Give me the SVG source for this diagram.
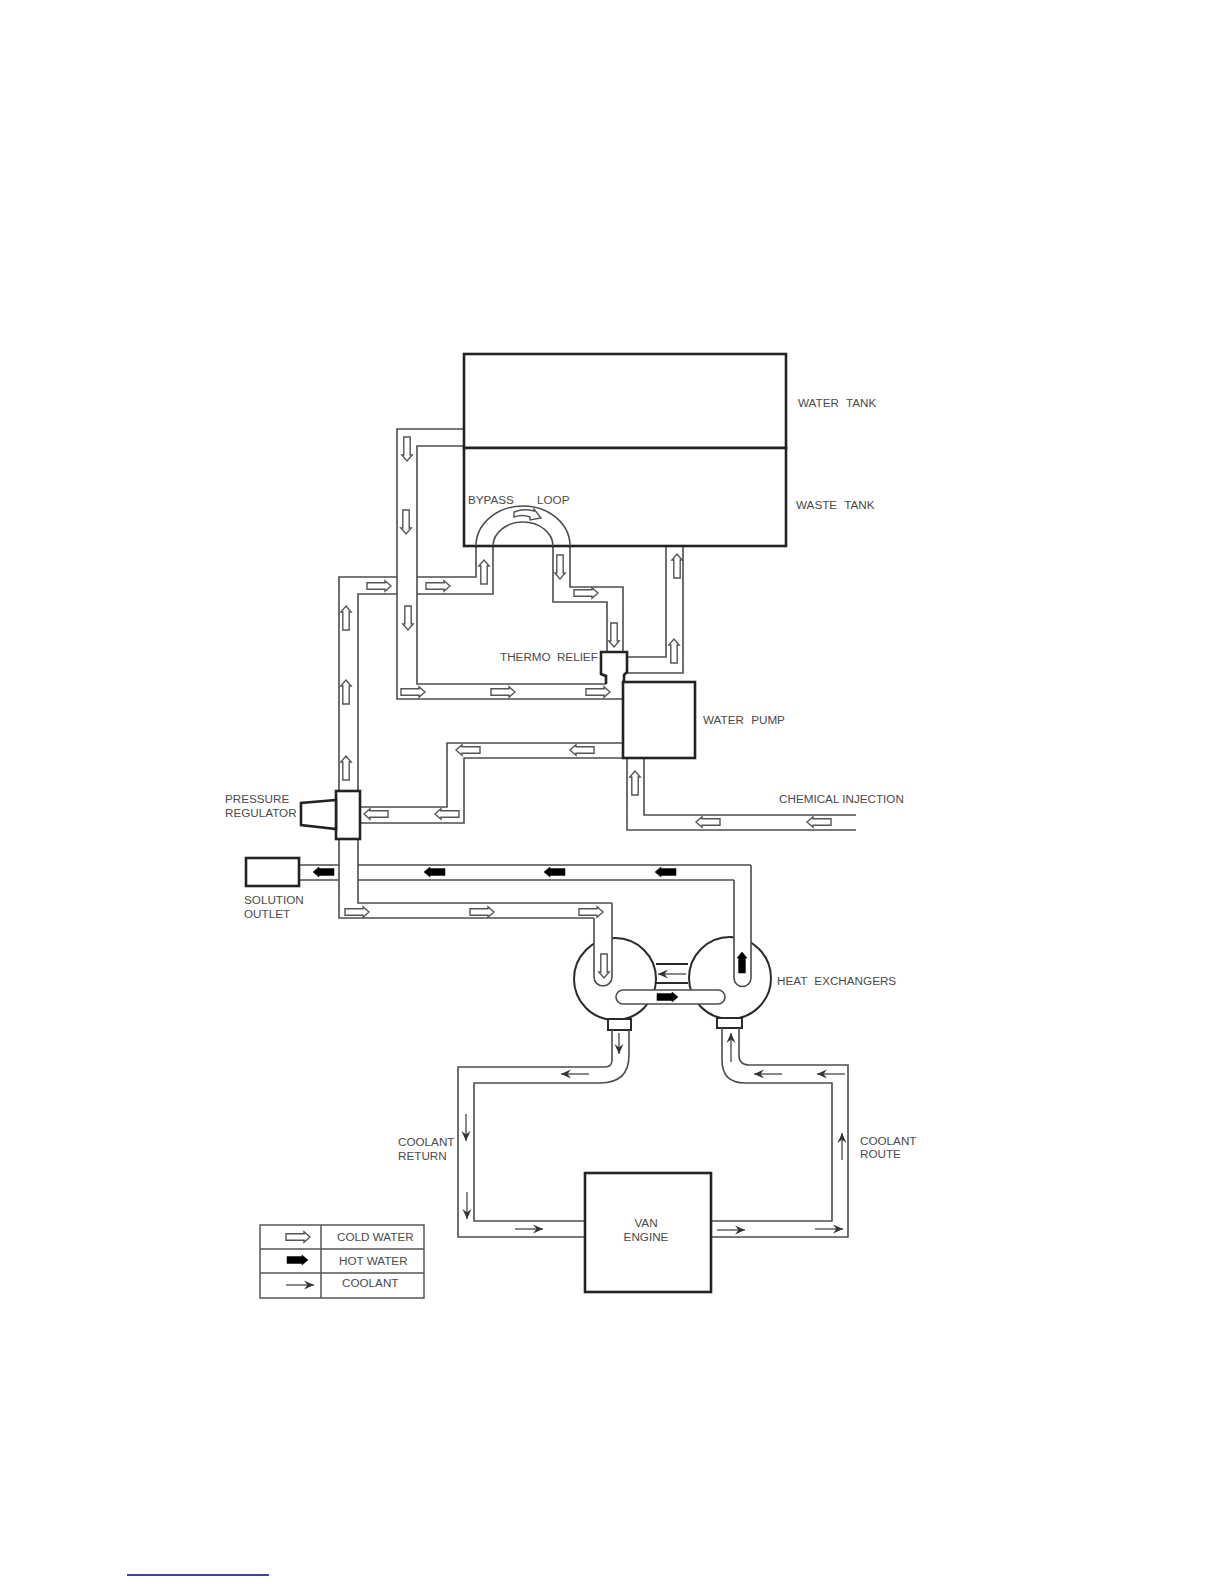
<svg xmlns="http://www.w3.org/2000/svg" width="1224" height="1584" viewBox="0 0 1224 1584">
<style>
text{font-family:"Liberation Sans",Arial,sans-serif;font-size:11.7px;fill:#4a4a4a}
.wide{word-spacing:4px}
.mid{text-anchor:middle}
.node{fill:#fff;stroke:#222;stroke-width:2.6}
.node2{fill:#fff;stroke:#2a2a2a;stroke-width:2}
.pipe{fill:none;stroke:#4d4d4d;stroke-width:1.6}
.pipew{fill:#fff;stroke:#4d4d4d;stroke-width:1.6}
.bar{fill:#fff;stroke:#4d4d4d;stroke-width:1.6}
.cold{fill:#fff;stroke:#555;stroke-width:1.4}
.hot{fill:#000;stroke:#111;stroke-width:.6}
.thin{fill:none;stroke:#555;stroke-width:1.4;marker-end:url(#tip)}
.leg{fill:none;stroke:#555;stroke-width:1.5}
</style>
<defs>
<path id="c" class="cold" d="M-12-3.2H6V-5.2L12 0 6 5.2V3.2H-12Z"/>
<path id="h" class="hot" d="M-10-3.4H5V-5L11 0 5 5V3.4H-10Z"/>
<marker id="tip" markerUnits="userSpaceOnUse" markerWidth="14" markerHeight="14" refX="11" refY="7" orient="auto"><path d="M1 2.5 11 7 1 11.5 4.5 7Z" fill="#333"/></marker>
</defs>
<g id="heat-exchanger-left"><circle class="node2" cx="615" cy="979" r="41"/><rect class="node2" x="608" y="1019" width="23" height="11"/></g>
<g id="heat-exchanger-right"><circle class="node2" cx="730" cy="978" r="41"/><rect class="node2" x="717" y="1018" width="25" height="10"/></g>
<g id="exchanger-link"><path class="node2" d="M656 964H688M656 983H688" fill="none"/></g>
<g id="connectors">
<path class="pipe" d="M464 429H397V699H623M464 446H417V684H606"/>
<path class="pipe" d="M397 577H339V791M397 594H358V791"/>
<path class="pipe" d="M417 577H476V546M417 594H493V546"/>
<path class="pipe" d="M553 546V602H607V652M570 546V587H623V652"/>
<path class="pipe" d="M627 657H666V546M627 673H683V546"/>
<path class="pipe" d="M623 743H447V807H360M623 758H464V823H360"/>
<path class="pipe" d="M627 758V830H856M644 758V815H856"/>
<path class="pipe" d="M339 839V918H594M358 839V903H612"/>
<path class="pipew" d="M594 918V977A9 9 0 0 0 612 977V903"/>
<path class="pipe" d="M299 865H339M299 880H339"/>
<path class="pipe" d="M358 865H751M358 880H734"/>
<path class="pipew" d="M734 880V978A8.5 8.5 0 0 0 751 978V865"/>
<path class="pipe" d="M612 1030V1060Q612 1067 605 1067H458V1237H585M629 1030V1055Q629 1083 600 1083H474V1221H585"/>
<path class="pipe" d="M739 1028V1055Q739 1065 749 1065H848V1237H711M722 1028V1060Q722 1083 745 1083H832V1221H711"/>
</g>
<g id="water-tank"><rect class="node" x="464" y="354" width="322" height="94"/></g>
<g id="waste-tank"><rect class="node" x="464" y="448" width="322" height="98"/></g>
<g id="bypass-loop"><path class="pipe" d="M476 546A47 40 0 0 1 570 546M493 546A30 24 0 0 1 553 546"/></g>
<g id="thermo-relief"><path class="node" d="M606 684V676L601 674V652H627V672L624 675V682"/></g>
<g id="water-pump"><rect class="node" x="623" y="682" width="72" height="76"/></g>
<g id="pressure-regulator"><rect class="node" x="336" y="791" width="24" height="48"/><path class="node" d="M336 800 301 803V825L336 829Z"/></g>
<g id="solution-outlet"><rect class="node" x="246" y="858" width="53" height="28"/></g>
<g id="exchanger-bar"><rect class="bar" x="616" y="990" width="109" height="14" rx="7"/></g>
<g id="van-engine"><rect class="node" x="585" y="1173" width="126" height="119"/></g>
<g id="flow-arrows">
<use href="#c" transform="translate(407 449) rotate(90)"/>
<use href="#c" transform="translate(406 522) rotate(90)"/>
<use href="#c" transform="translate(408 618) rotate(90)"/>
<use href="#c" transform="translate(379 586)"/>
<use href="#c" transform="translate(438 586)"/>
<use href="#c" transform="translate(484 572) rotate(-90)"/>
<path class="cold" d="M514 512Q524 508 534 511V509L541 518 530 520V517Q522 514 514 517Z"/>
<use href="#c" transform="translate(560 567) rotate(90)"/>
<use href="#c" transform="translate(586 593)"/>
<use href="#c" transform="translate(614 635) rotate(90)"/>
<use href="#c" transform="translate(674 651) rotate(-90)"/>
<use href="#c" transform="translate(677 566) rotate(-90)"/>
<use href="#c" transform="translate(413 692)"/>
<use href="#c" transform="translate(503 692)"/>
<use href="#c" transform="translate(598 692)"/>
<use href="#c" transform="translate(346 618) rotate(-90)"/>
<use href="#c" transform="translate(346 692) rotate(-90)"/>
<use href="#c" transform="translate(346 768) rotate(-90)"/>
<use href="#c" transform="translate(468 750) rotate(180)"/>
<use href="#c" transform="translate(582 750) rotate(180)"/>
<use href="#c" transform="translate(376 814) rotate(180)"/>
<use href="#c" transform="translate(447 814) rotate(180)"/>
<use href="#c" transform="translate(635 783) rotate(-90)"/>
<use href="#c" transform="translate(708 822) rotate(180)"/>
<use href="#c" transform="translate(819 822) rotate(180)"/>
<use href="#c" transform="translate(357 912)"/>
<use href="#c" transform="translate(482 912)"/>
<use href="#c" transform="translate(591 912)"/>
<use href="#c" transform="translate(604 966) rotate(90)"/>
<use href="#h" transform="translate(324 872) rotate(180)"/>
<use href="#h" transform="translate(435 872) rotate(180)"/>
<use href="#h" transform="translate(555 872) rotate(180)"/>
<use href="#h" transform="translate(666 872) rotate(180)"/>
<use href="#h" transform="translate(742 963) rotate(-90)"/>
<use href="#h" transform="translate(667 997)"/>
<path class="thin" d="M686 974H658"/>
<path class="thin" d="M619 1033V1054"/>
<path class="thin" d="M589 1074H561"/>
<path class="thin" d="M731 1062V1033"/>
<path class="thin" d="M782 1074H754"/>
<path class="thin" d="M845 1074H817"/>
<path class="thin" d="M466 1114V1141"/>
<path class="thin" d="M467 1192V1219"/>
<path class="thin" d="M515 1229H543"/>
<path class="thin" d="M717 1230H745"/>
<path class="thin" d="M815 1229H843"/>
<path class="thin" d="M842 1160V1133"/>
</g>
<g id="legend">
<path class="leg" d="M260 1225H424V1298H260ZM321 1225V1298M260 1249H424M260 1273H424"/>
<use href="#c" transform="translate(298 1237)"/>
<use href="#h" transform="translate(297 1260)"/>
<path class="thin" d="M286 1285H314"/>
<text x="337" y="1241">COLD WATER</text>
<text x="339" y="1265">HOT WATER</text>
<text x="342" y="1287">COOLANT</text>
</g>
<g id="labels">
<text class="wide" x="798" y="407">WATER TANK</text>
<text class="wide" x="796" y="509">WASTE TANK</text>
<text x="468" y="504">BYPASS</text>
<text x="537" y="504">LOOP</text>
<text x="500" y="661" style="word-spacing:3px">THERMO RELIEF</text>
<text class="wide" x="703" y="724">WATER PUMP</text>
<text x="779" y="803">CHEMICAL INJECTION</text>
<text x="225" y="803">PRESSURE</text>
<text x="225" y="817">REGULATOR</text>
<text x="244" y="904">SOLUTION</text>
<text x="244" y="918">OUTLET</text>
<text class="wide" x="777" y="985">HEAT EXCHANGERS</text>
<text x="398" y="1146">COOLANT</text>
<text x="398" y="1160">RETURN</text>
<text x="860" y="1145">COOLANT</text>
<text x="860" y="1158">ROUTE</text>
<text class="mid" x="646" y="1227">VAN</text>
<text class="mid" x="646" y="1241">ENGINE</text>
</g>
<path d="M127 1575H269" stroke="#00008b" stroke-width="1.5" fill="none"/>
</svg>
